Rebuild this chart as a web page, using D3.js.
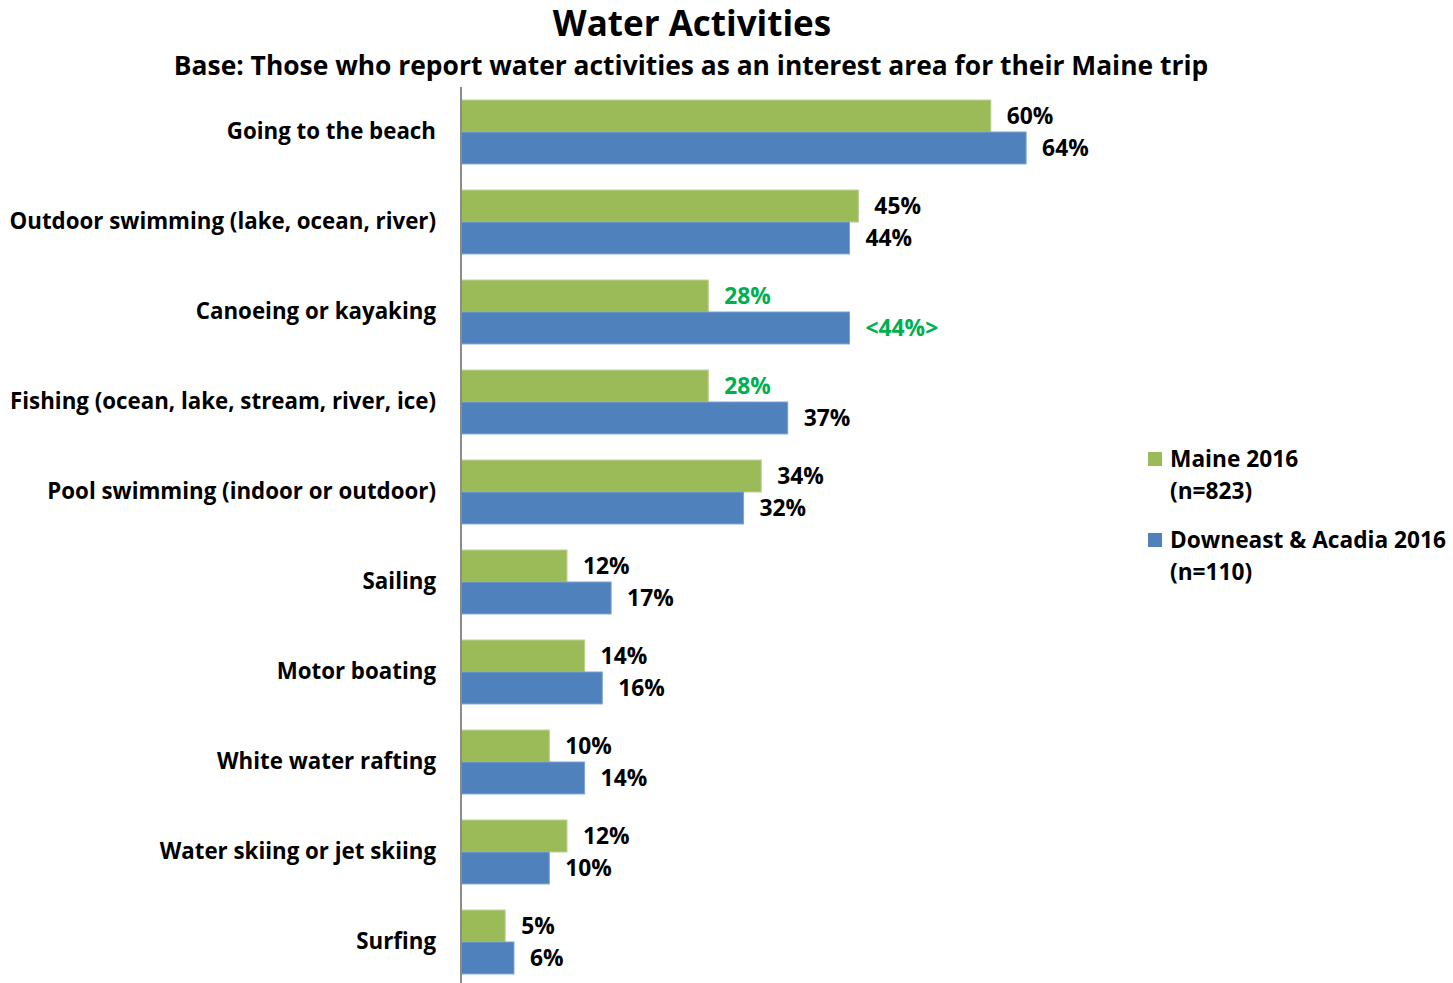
<!DOCTYPE html>
<html>
<head>
<meta charset="utf-8">
<script src="https://cdn.jsdelivr.net/npm/d3@7"></script>
<style>
  html, body { margin: 0; padding: 0; background: #ffffff; }
  svg text { font-family: "Open Sans", "Lato", sans-serif; font-weight: 700; fill: #000; }
</style>
</head>
<body>
<svg id="chart" width="1453" height="983"></svg>
<script>
// Activities, top to bottom
const categories = [
  "Going to the beach",
  "Outdoor swimming (lake, ocean, river)",
  "Canoeing or kayaking",
  "Fishing (ocean, lake, stream, river, ice)",
  "Pool swimming (indoor or outdoor)",
  "Sailing",
  "Motor boating",
  "White water rafting",
  "Water skiing or jet skiing",
  "Surfing"
];

// Share of respondents (%)
const maine2016 = [60, 45, 28, 28, 34, 12, 14, 10, 12, 5];
const downeast2016 = [64, 44, 44, 37, 32, 17, 16, 14, 10, 6];

// Labels shown in green mark significant differences; "<...>" marks the higher group
const maineLabels = ["60%", "45%", "28%", "28%", "34%", "12%", "14%", "10%", "12%", "5%"];
const downeastLabels = ["64%", "44%", "<44%>", "37%", "32%", "17%", "16%", "14%", "10%", "6%"];
const maineHighlight = [false, false, true, true, false, false, false, false, false, false];
const downeastHighlight = [false, false, true, false, false, false, false, false, false, false];

const seriesNames = ["Maine 2016", "Downeast & Acadia 2016"];
const seriesNotes = ["(n=823)", "(n=110)"];

const colors = { maine: "#9BBB59", downeast: "#4F81BD", sig: "#00B050" };

const svg = d3.select("#chart");
const plot = { left: 461, top: 87, bottom: 987 };
const pxPerPct = 8.83;

const x = d3.scaleLinear().domain([0, 75]).range([plot.left, plot.left + 75 * pxPerPct]);
const y = d3.scaleBand().domain(categories).range([plot.top, plot.bottom]).paddingInner(0.29).paddingOuter(0.145);
const sub = d3.scaleBand().domain(["maine", "downeast"]).range([0, y.bandwidth()]);

// Title
svg.append("text").attr("x", 692).attr("y", 36).attr("text-anchor", "middle")
  .style("font-size", "35px").text("Water Activities");
svg.append("text").attr("x", 691).attr("y", 75).attr("text-anchor", "middle")
  .style("font-size", "26.4px").text("Base: Those who report water activities as an interest area for their Maine trip");

const rows = categories.map((c, i) => ({
  cat: c,
  bars: [
    { key: "maine", v: maine2016[i], label: maineLabels[i], hi: maineHighlight[i] },
    { key: "downeast", v: downeast2016[i], label: downeastLabels[i], hi: downeastHighlight[i] }
  ]
}));

const g = svg.append("g");
const grp = g.selectAll("g.row").data(rows).join("g")
  .attr("class", "row")
  .attr("transform", d => `translate(0,${y(d.cat)})`);

grp.selectAll("rect").data(d => d.bars).join("rect")
  .attr("x", x(0))
  .attr("y", d => sub(d.key))
  .attr("width", d => x(d.v) - x(0))
  .attr("height", sub.bandwidth())
  .attr("fill", d => colors[d.key])
  .attr("stroke", d => d.key === "maine" ? "#b8cf8c" : "#7fa3d1")
  .attr("stroke-width", 1);

grp.selectAll("text.val").data(d => d.bars).join("text")
  .attr("class", "val")
  .attr("x", d => x(d.v) + 16)
  .attr("y", d => sub(d.key) + sub.bandwidth() / 2)
  .attr("dy", "0.36em")
  .style("font-size", "22.8px")
  .style("fill", d => d.hi ? colors.sig : "#000")
  .text(d => d.label);

// Category axis
const axis = d3.axisLeft(y).tickSize(0).tickPadding(25);
const ax = svg.append("g").attr("transform", `translate(${plot.left},0)`).call(axis);
ax.select(".domain").attr("stroke", "#8c8c8c").attr("stroke-width", 2)
  .attr("d", `M0,${plot.top}V983`);
ax.selectAll(".tick text")
  .style("font-family", '"Open Sans", sans-serif')
  .style("font-weight", 700)
  .style("font-size", "22.3px")
  .attr("fill", "#000");

// Legend
const legend = svg.append("g").attr("transform", "translate(1148,0)");
const legendRows = [
  { key: "maine", name: seriesNames[0], note: seriesNotes[0], y: 459 },
  { key: "downeast", name: seriesNames[1], note: seriesNotes[1], y: 540 }
];
legendRows.forEach(r => {
  legend.append("rect").attr("x", 0).attr("y", r.y - 7).attr("width", 14).attr("height", 14)
    .attr("fill", colors[r.key]);
  legend.append("text").attr("x", 22).attr("y", r.y).attr("dy", "0.36em")
    .style("font-size", "22.7px").text(r.name);
  legend.append("text").attr("x", 22).attr("y", r.y + 32).attr("dy", "0.36em")
    .style("font-size", "22.7px").text(r.note);
});
</script>
</body>
</html>
